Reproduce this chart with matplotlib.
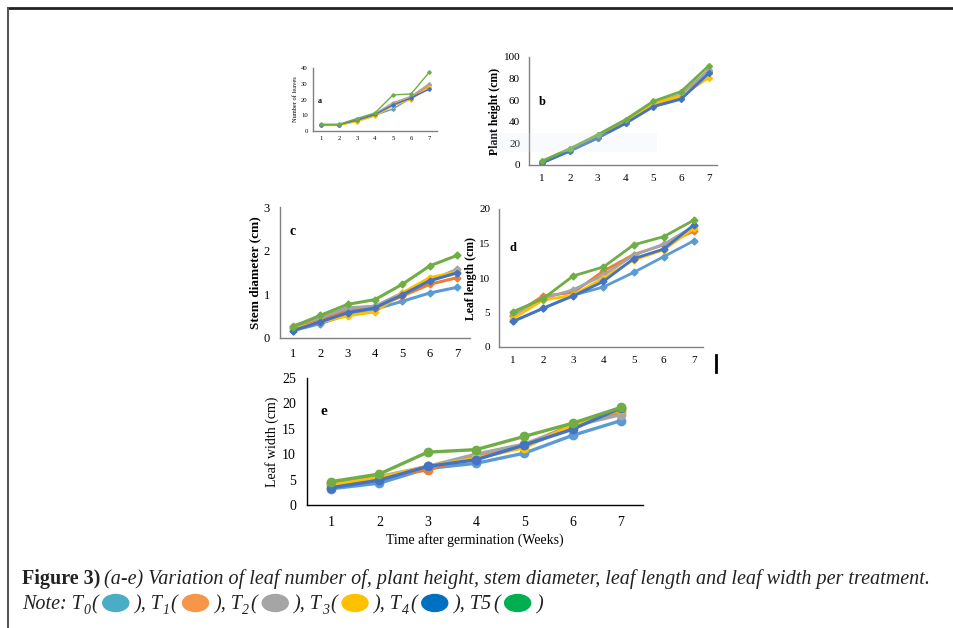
import matplotlib
matplotlib.use("Agg")
import matplotlib.pyplot as plt
from matplotlib.lines import Line2D
from matplotlib.patches import Ellipse, Rectangle

plt.rcParams['font.family'] = ['Liberation Serif', 'DejaVu Serif']

weeks = [1, 2, 3, 4, 5, 6, 7]
treatments = ['T0', 'T1', 'T2', 'T3', 'T4', 'T5']
line_colors = ['#5B9BD5', '#ED7D31', '#A5A5A5', '#FFC000', '#4472C4', '#70AD47']
note_colors = ['#4BACC6', '#F79646', '#A5A5A5', '#FFC000', '#0070C0', '#00B050']

# a) number of leaves
leaves = [
    [4.0, 4.0, 6.5, 10.0, 14.0, 21.0, 27.0],
    [4.0, 4.0, 7.0, 10.5, 17.0, 21.0, 29.0],
    [4.0, 4.0, 7.5, 11.0, 18.0, 22.0, 30.0],
    [3.5, 3.5, 6.0, 9.5, 16.0, 20.0, 28.0],
    [4.0, 4.0, 7.0, 10.5, 16.5, 21.0, 26.5],
    [4.3, 4.3, 7.9, 11.5, 22.9, 23.5, 37.2],
]
# b) plant height (cm)
height = [
    [2.0, 13.0, 25.0, 39.0, 55.0, 62.0, 86.0],
    [2.5, 14.0, 26.0, 40.0, 56.0, 64.0, 87.0],
    [2.5, 14.5, 27.0, 41.0, 57.0, 65.0, 88.0],
    [3.0, 15.0, 27.0, 40.0, 57.0, 64.0, 81.0],
    [2.0, 13.0, 25.0, 38.5, 54.0, 61.0, 85.0],
    [3.7, 15.0, 28.0, 42.0, 59.0, 68.0, 92.0],
]
# c) stem diameter (cm)
stem = [
    [0.17, 0.33, 0.54, 0.66, 0.84, 1.03, 1.16],
    [0.23, 0.40, 0.65, 0.70, 0.96, 1.23, 1.38],
    [0.28, 0.47, 0.69, 0.73, 1.03, 1.31, 1.57],
    [0.21, 0.36, 0.51, 0.60, 1.03, 1.38, 1.51],
    [0.17, 0.37, 0.58, 0.69, 0.99, 1.31, 1.49],
    [0.26, 0.52, 0.77, 0.88, 1.23, 1.65, 1.89],
]
# d) leaf length (cm)
length = [
    [3.7, 5.6, 7.5, 8.7, 10.8, 13.1, 15.4],
    [4.6, 7.4, 7.9, 11.0, 13.4, 14.8, 16.8],
    [4.5, 7.0, 8.3, 10.4, 13.3, 14.9, 17.5],
    [4.1, 6.8, 7.5, 10.0, 12.6, 14.1, 17.2],
    [3.7, 5.6, 7.4, 9.5, 12.8, 14.2, 17.7],
    [5.1, 7.0, 10.3, 11.6, 14.8, 16.0, 18.4],
]
# e) leaf width (cm)
width = [
    [3.2, 4.3, 7.2, 8.2, 10.2, 13.7, 16.6],
    [4.3, 5.6, 6.9, 9.7, 11.8, 15.8, 18.4],
    [4.1, 5.6, 7.6, 10.0, 12.0, 15.5, 17.8],
    [3.9, 5.4, 7.6, 9.2, 11.3, 15.7, 18.8],
    [3.4, 4.9, 7.6, 8.9, 11.8, 14.9, 19.1],
    [4.6, 6.1, 10.4, 10.9, 13.5, 16.1, 19.2],
]

W, H = 954, 628
fig = plt.figure(figsize=(W / 100, H / 100), dpi=100)


def box(left, top, right, bottom):
    return [left / W, 1 - bottom / H, (right - left) / W, (bottom - top) / H]


def panel(rect, data, xlim, ylim, yticks, ylabel, letter, letter_xy,
          fs, lfs, lw, ms, marker, spine='#808080', bold=False, lpad=2):
    ax = fig.add_axes(box(*rect))
    for vals, c in zip(data, line_colors):
        ax.plot(weeks, vals, color=c, lw=lw, marker=marker, ms=ms,
                mfc=c, mec=c)
    ax.set_xlim(*xlim)
    ax.set_ylim(*ylim)
    ax.set_xticks(weeks)
    ax.set_yticks(yticks)
    ax.tick_params(length=0, labelsize=fs, pad=fs * 0.8)
    for s in ['top', 'right']:
        ax.spines[s].set_visible(False)
    for s in ['left', 'bottom']:
        ax.spines[s].set_color(spine)
        ax.spines[s].set_linewidth(1.0)
    ax.set_ylabel(ylabel, fontsize=lfs, fontweight='bold' if bold else 'normal',
                  labelpad=lpad)
    ax.text(letter_xy[0], letter_xy[1], letter, transform=ax.transAxes,
            fontsize=fs + 1, fontweight='bold', va='center', ha='left')
    ax.patch.set_alpha(0)
    return ax


panel((313, 68, 437, 131), leaves, (0.56, 7.44), (0, 40), [0, 10, 20, 30, 40],
      'Number of leaves', 'a', (0.04, 0.47), 4.8, 4.6, 1.0, 1.8, 'D')
panel((529, 57, 717, 165), height, (0.53, 7.29), (0, 100), range(0, 101, 20),
      'Plant height (cm)', 'b', (0.05, 0.58), 8, 8.5, 2.0, 3, 'D', bold=True)
panel((280, 207, 470, 338), stem, (0.52, 7.48), (0, 3), [0, 1, 2, 3],
      'Stem diameter (cm)', 'c', (0.05, 0.81), 9, 9.5, 2.2, 3.5, 'D', bold=True)
panel((499, 209, 703, 347), length, (0.54, 7.30), (0, 20), [0, 5, 10, 15, 20],
      'Leaf length (cm)', 'd', (0.05, 0.72), 8, 8.5, 2.0, 3.5, 'D', bold=True,
      lpad=1.5)
ax_e = panel((307, 378, 643, 505), width, (0.50, 7.46), (0, 25),
             range(0, 26, 5), 'Leaf width (cm)', 'e', (0.04, 0.74),
             10, 10, 2.4, 6, 'o', spine='black')
ax_e.set_xlabel('Time after germination (Weeks)', fontsize=10, labelpad=3)

# faint watermark strip over panel b
fig.add_artist(Rectangle((490 / W, 1 - 152 / H), 167 / W, 19 / H,
                         transform=fig.transFigure, facecolor='#dce8f7',
                         edgecolor='none', alpha=0.2, zorder=5))

# frame lines and stray mark
fig.add_artist(Line2D([8 / W, 1], [1 - 8 / H, 1 - 8 / H], color='#222222', lw=2))
fig.add_artist(Line2D([8 / W, 8 / W], [0, 1 - 8 / H], color='#555555', lw=1.5))
fig.add_artist(Line2D([716 / W, 716 / W], [1 - 372 / H, 1 - 355 / H],
                      color='black', lw=2))

# caption
renderer = fig.canvas.get_renderer()
ink = '#222222'
cfs = 14.5


def put(x, y, s, **kw):
    t = fig.text(x / W, 1 - y / H, s, va='baseline', ha='left', color=ink, **kw)
    bb = t.get_window_extent(renderer)
    return bb.x1


x = put(22, 584, 'Figure 3)', fontsize=cfs, fontweight='bold')
put(x + 4, 584, '(a-e) Variation of leaf number of, plant height, stem diameter, '
    'leaf length and leaf width per treatment.', fontsize=cfs, style='italic')

x = 22
base = 609
for i, c in enumerate(note_colors):
    if i == 0:
        x = put(x, base, 'Note: T', fontsize=cfs, style='italic')
    elif i < 5:
        x = put(x, base, '), T', fontsize=cfs, style='italic')
    else:
        x = put(x, base, '), T5', fontsize=cfs, style='italic')
    if i < 5:
        x = put(x, base + 5, str(i), fontsize=10, style='italic')
    x = put(x + 1, base, '(', fontsize=cfs, style='italic')
    fig.add_artist(Ellipse(((x + 18) / W, 1 - (base - 6) / H), 26 / W, 17 / H,
                           transform=fig.transFigure, color=c))
    x += 37
put(x, base, ')', fontsize=cfs, style='italic')

fig.savefig('out.png', dpi=100)
